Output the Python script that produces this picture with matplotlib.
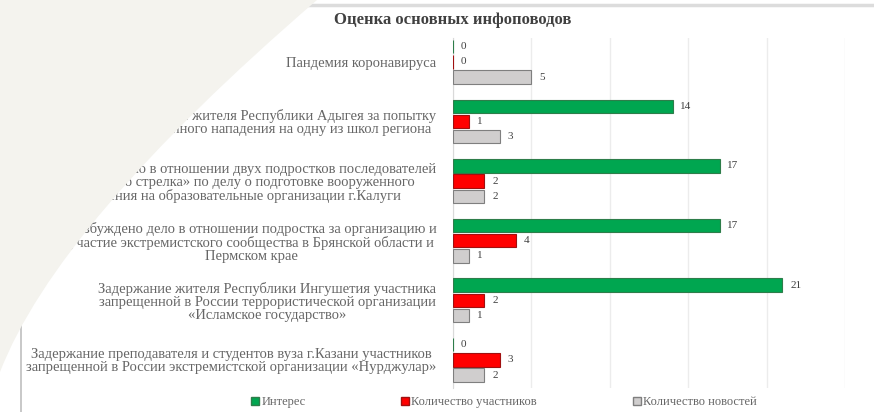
import numpy as np
import matplotlib.pyplot as plt
from matplotlib.path import Path
from matplotlib.patches import PathPatch
from matplotlib.lines import Line2D

categories = [
    "Пандемия коронавируса",
    "Задержание жителя Республики Адыгея за попытку\nвооруженного нападения на одну из школ региона",
    "Возбуждено дело в отношении двух подростков последователей\n«казанского стрелка» по делу о подготовке вооруженного\nнападения на образовательные организации г.Калуги",
    "Возбуждено дело в отношении подростка за организацию и\nучастие экстремистского сообщества в Брянской области и\nПермском крае",
    "Задержание жителя Республики Ингушетия участника\nзапрещенной в России террористической организации\n«Исламское государство»",
    "Задержание преподавателя и студентов вуза г.Казани участников\nзапрещенной в России экстремистской организации «Нурджулар»",
]
interest = [0, 14, 17, 17, 21, 0]
participants = [0, 1, 2, 4, 2, 3]
news = [5, 3, 2, 1, 1, 2]
series_names = ["Интерес", "Количество участников", "Количество новостей"]

W, H = 874, 412
fig = plt.figure(figsize=(W / 100, H / 100), dpi=100)
fig.patch.set_facecolor("white")
ax = fig.add_axes([453 / W, 1 - 388 / H, (845 - 453) / W, (388 - 38) / H])

y = np.arange(len(categories))
step = 0.255
bh = 0.225
colors = ["#00a650", "#ff0000", "#d0cece"]
edges = ["#2e7d4a", "#a01010", "#7f7f7f"]
for k, vals in enumerate([interest, participants, news]):
    pos = y + (k - 1) * step
    ax.barh(pos, vals, height=bh, color=colors[k], edgecolor=edges[k],
            linewidth=0.8, zorder=3, label=series_names[k])
    for p, v in zip(pos, vals):
        ax.text(v + 0.5, p, str(v), va="center", ha="left", fontsize=8,
                family="Liberation Serif", color="#404040")

ax.set_xlim(0, 25)
ax.set_ylim(5.47, -0.4)
ax.set_xticks([0, 5, 10, 15, 20, 25])
ax.set_xticklabels([])
ax.grid(axis="x", color="#ececec", linewidth=1, zorder=0)
ax.tick_params(length=0)
for s in ["top", "right", "bottom"]:
    ax.spines[s].set_visible(False)
ax.spines["left"].set_color("#d9d9d9")
ax.set_yticks(y)
ax.set_yticklabels(categories, fontsize=10.5, family="Liberation Serif",
                   color="#666666", multialignment="center", linespacing=1.0)
ax.tick_params(axis="y", pad=12)

fig.text(453 / W, 1 - 20 / H, "Оценка основных инфоповодов", ha="center", va="center",
         fontsize=12, fontweight="bold", family="Liberation Serif", color="#404040")

# legend entries, one per series
legend_x = [250, 400, 632]
for k in range(3):
    h = Line2D([], [], marker="s", linestyle="none", markersize=6,
               markerfacecolor=colors[k], markeredgecolor=edges[k])
    fig.legend([h], [series_names[k]], loc="center left",
               bbox_to_anchor=(legend_x[k] / W, 1 - 402 / H), frameon=False,
               handletextpad=0.1, handlelength=0.8, borderaxespad=0, borderpad=0,
               prop={"family": "Liberation Serif", "size": 9}, labelcolor="#666666")

# chart frame
fig.add_artist(Line2D([21 / W, 1], [1 - 5 / H, 1 - 5 / H], color="#dcdcdc", lw=2.5,
                      transform=fig.transFigure))
fig.add_artist(Line2D([21 / W, 21 / W], [0, 1 - 5 / H], color="#bfbfbf", lw=1.2,
                      transform=fig.transFigure))

# beige slide decoration
verts = [(0, 0), (317, 0), (57, 224), (0, 372), (0, 0)]
codes = [Path.MOVETO, Path.LINETO, Path.CURVE3, Path.CURVE3, Path.CLOSEPOLY]
verts = [(vx / W, 1 - vy / H) for vx, vy in verts]
fig.add_artist(PathPatch(Path(verts, codes), facecolor="#f4f3ee", edgecolor="none",
                         transform=fig.transFigure, zorder=10))

fig.savefig("out.png", dpi=100)
